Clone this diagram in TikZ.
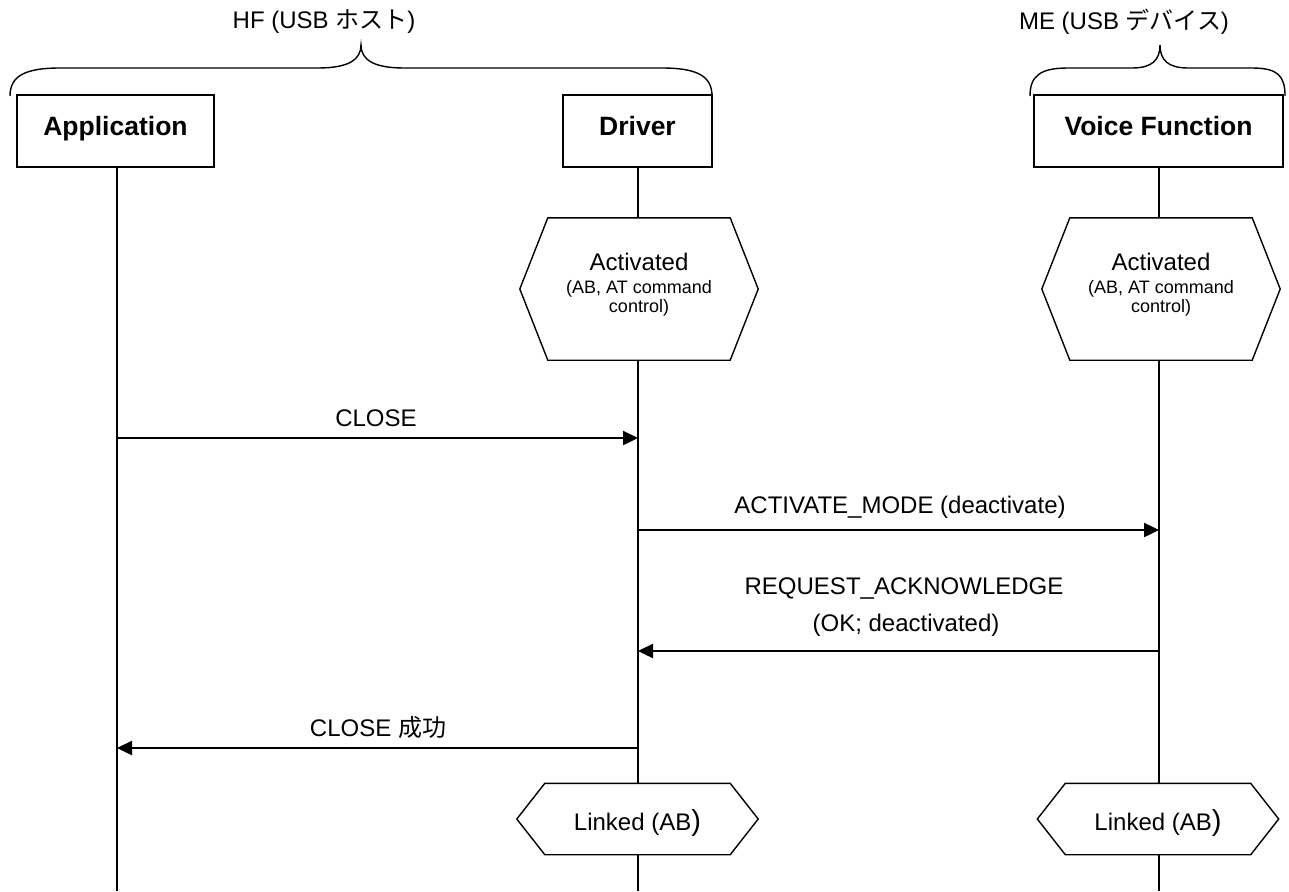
\documentclass[tikz,border=0pt]{standalone}
\usepackage{fontspec}
\setmainfont{Liberation Sans}
\newfontfamily\jpfont{Noto Sans CJK JP}
\usetikzlibrary{arrows.meta}

\begin{document}
\begin{tikzpicture}[x=1pt,y=-1pt,
  actor/.style={draw,line width=1.4pt,minimum height=72pt,inner sep=0pt,
    text height=18pt,text depth=10pt,
    font=\fontsize{26.5}{30}\selectfont\bfseries},
  acthex/.style={inner sep=0pt,align=center,minimum width=182pt,minimum height=142pt,
    text depth=12pt,font=\fontsize{18}{19}\selectfont},
  lnkhex/.style={inner sep=0pt,minimum width=185pt,minimum height=71pt,
    text height=24pt,text depth=2pt,font=\fontsize{24}{28}\selectfont},
  hexline/.style={line width=1.4pt,line join=miter},
  life/.style={line width=1.4pt},
  msg/.style={line width=2.4pt,-{Triangle[length=15pt,width=14pt]}},
  lbl/.style={inner sep=0pt,anchor=base,font=\fontsize{24}{28}\selectfont},
  grp/.style={inner sep=0pt,font=\fontsize{24}{28}\selectfont},
  brace/.style={line width=1.4pt},
]
\useasboundingbox (0,0) rectangle (1289,891);

% group captions and braces
\node[grp] (hf) at (324,22) {HF (USB {\jpfont ホスト})};
\node[grp] (me) at (1124,22) {ME (USB {\jpfont デバイス})};
\draw[brace] (10,96) .. controls (10,76) and (25,68) .. (60,68) -- (318,68)
  .. controls (348,68) and (361,60) .. (361,45)
  .. controls (361,60) and (374,68) .. (404,68) -- (662,68)
  .. controls (697,68) and (712,76) .. (712,96);
\draw[brace] (1030,96) .. controls (1030,76) and (1040,68) .. (1068,68) -- (1132,68)
  .. controls (1152,68) and (1160,60) .. (1160,45)
  .. controls (1160,60) and (1168,68) .. (1188,68) -- (1252,68)
  .. controls (1278,68) and (1285,76) .. (1285,96);

% participants
\node[actor,minimum width=197pt] (app) at (115.5,131) {Application};
\node[actor,minimum width=149pt] (drv) at (637.5,131) {Driver};
\node[actor,minimum width=249pt] (vf) at (1158.5,131) {Voice Function};

% state hexagons: a node for the text, outlined by a six-sided path
\newcommand\hexagon[2]{%
  \draw[hexline] (#1.north west) -- (#1.north east) -- ([xshift=#2]#1.east)
    -- (#1.south east) -- (#1.south west) -- ([xshift=-#2]#1.west) -- cycle;}

\node[acthex] (dact) at (639,289)
  {{\fontsize{24}{24}\selectfont Activated}\\[4pt] (AB, AT command\\ control)};
\hexagon{dact}{28pt}
\node[acthex] (vact) at (1161,289)
  {{\fontsize{24}{24}\selectfont Activated}\\[4pt] (AB, AT command\\ control)};
\hexagon{vact}{28pt}

\node[lnkhex] (dlnk) at (637.5,819) {Linked (AB{\fontsize{29}{29}\selectfont)}};
\hexagon{dlnk}{28pt}
\node[lnkhex] (vlnk) at (1158,819) {Linked (AB{\fontsize{29}{29}\selectfont)}};
\hexagon{vlnk}{28pt}

% lifelines
\coordinate (append) at (117,891);
\coordinate (drvend) at (638,891);
\coordinate (vfend) at (1159,891);
\draw[life] (app.south -| append) -- (append);
\draw[life] (drv.south -| drvend) -- (dact.north -| drvend);
\draw[life] (dact.south -| drvend) -- (dlnk.north -| drvend);
\draw[life] (dlnk.south -| drvend) -- (drvend);
\draw[life] (vf.south -| vfend) -- (vact.north -| vfend);
\draw[life] (vact.south -| vfend) -- (vlnk.north -| vfend);
\draw[life] (vlnk.south -| vfend) -- (vfend);

% message anchor points on the lifelines
\coordinate (m1a) at (117,438);  \coordinate (m1b) at (638,438);
\coordinate (m2a) at (638,530);  \coordinate (m2b) at (1159,530);
\coordinate (m3a) at (1159,651); \coordinate (m3b) at (638,651);
\coordinate (m4a) at (638,748);  \coordinate (m4b) at (117,748);

% messages
\draw[msg] (m1a) -- (m1b);
\node[lbl] (t1) at (376,426) {CLOSE};
\draw[msg] (m2a) -- (m2b);
\node[lbl] (t2) at (900,513) {ACTIVATE\_MODE (deactivate)};
\draw[msg] (m3a) -- (m3b);
\node[lbl] (t3a) at (904,594) {REQUEST\_ACKNOWLEDGE};
\node[lbl] (t3b) at (906,631) {(OK; deactivated)};
\draw[msg] (m4a) -- (m4b);
\node[lbl] (t4) at (378,736) {CLOSE {\jpfont 成功}};
\end{tikzpicture}
\end{document}
